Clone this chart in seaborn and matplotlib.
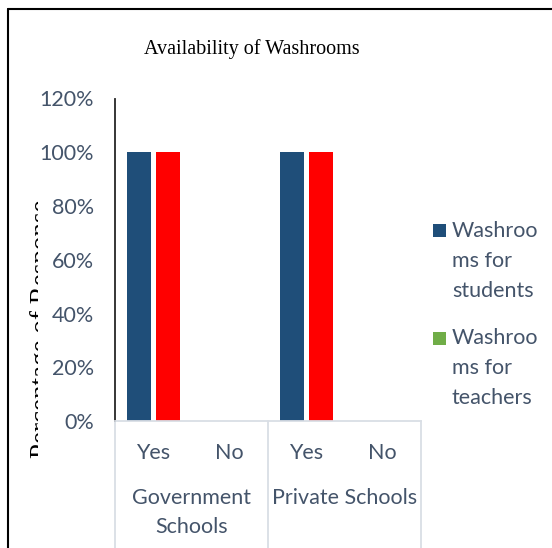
import matplotlib
matplotlib.use("Agg")
import matplotlib.pyplot as plt
import seaborn as sns
import pandas as pd
from matplotlib.lines import Line2D
from matplotlib.patches import Rectangle
from matplotlib.transforms import Bbox, TransformedBbox

# ---- data ----
groups = ["Government Schools", "Government Schools", "Private Schools", "Private Schools"]
answers = ["Yes", "No", "Yes", "No"]
students = [100, 0, 100, 0]
teachers = [100, 0, 100, 0]
series_names = ["Washrooms for students", "Washrooms for teachers"]
legend_labels = ["Washroo\nms for\nstudents", "Washroo\nms for\nteachers"]
group_labels = ["Government\nSchools", "Private Schools"]
yticks = [0, 20, 40, 60, 80, 100, 120]
ytick_labels = ["0%", "20%", "40%", "60%", "80%", "100%", "120%"]

bar_colors = ["#1F4E79", "#FF0000"]
legend_colors = ["#1F4E79", "#70AD47"]
text_color = "#44546A"

slots = [f"{g}|{a}" for g, a in zip(groups, answers)]
df = pd.DataFrame({
    "slot": slots * 2,
    "value": students + teachers,
    "series": [series_names[0]] * 4 + [series_names[1]] * 4,
})

sns.set_theme(style="white")
plt.rcParams["font.family"] = ["Lato", "DejaVu Sans"]

W, H = 552, 548
fig = plt.figure(figsize=(W / 100, H / 100), dpi=100)
ax = fig.add_axes([115 / W, 1 - 421 / H, (421 - 115) / W, (421 - 98.5) / H])

sns.barplot(data=df, x="slot", y="value", hue="series", order=slots,
            hue_order=series_names, palette=bar_colors, saturation=1,
            width=0.758, gap=0.17, errorbar=None, linewidth=0,
            legend=False, ax=ax)

ax.set_xlim(-0.5, len(slots) - 0.5)
ax.set_ylim(0, 120)
ax.set_yticks(yticks)
ax.set_yticklabels(ytick_labels, fontsize=15.5, color=text_color)
ax.set_xticks(range(len(slots)))
ax.set_xticklabels(answers, fontsize=15.5, color=text_color)
ax.tick_params(axis="y", length=0, pad=15)
ax.tick_params(axis="x", length=0, pad=16)
ax.set_xlabel("")
ax.set_ylabel("")

for s in ["top", "right"]:
    ax.spines[s].set_visible(False)
ax.spines["left"].set_color("#262626")
ax.spines["left"].set_linewidth(1.3)
ax.spines["bottom"].set_color("#D9DEE5")
ax.spines["bottom"].set_linewidth(1.3)

# multi-level category axis: group dividers and group names
for xd in [-0.5, 1.5, 3.5]:
    ax.plot([xd, xd], [0, -0.45], transform=ax.get_xaxis_transform(),
            color="#D9DEE5", lw=1.3, clip_on=False)
for i, lab in enumerate(group_labels):
    xc = 2 * i + 0.5
    for j, line in enumerate(lab.split("\n")):
        ypix = 498 + 29 * j
        ax.annotate(line, xy=(xc, 0), xycoords=ax.get_xaxis_transform(),
                    xytext=(0, -(ypix - 421)), textcoords="offset pixels",
                    ha="center", va="center", fontsize=15.5, color=text_color,
                    annotation_clip=False)

# title
fig.text(252 / W, 1 - 49 / H, "Availability of Washrooms",
         family="Liberation Serif", fontsize=14.5, color="black",
         ha="center", va="center")

# y-axis title, partly hidden behind the tick labels
yl = fig.text(30 / W, 1 - 329 / H, "Percentage of Response", rotation=90,
              family="Liberation Serif", fontsize=19.5, color="black",
              ha="left", va="center")
yl.set_clip_box(TransformedBbox(Bbox([[0, 0], [38 / W, 1]]), fig.transFigure))

# legend
for k, (lab, col) in enumerate(zip(legend_labels, legend_colors)):
    y0 = 231 + 107 * k
    fig.add_artist(Rectangle((433 / W, 1 - (y0 + 6.5) / H), 13 / W, 13 / H,
                             transform=fig.transFigure, color=col, lw=0))
    for j, line in enumerate(lab.split("\n")):
        fig.text(452 / W, 1 - (y0 + 30 * j) / H, line, fontsize=15.5,
                 color=text_color, ha="left", va="center")

# outer frame
fig.add_artist(Line2D([7.5 / W, 1], [1 - 8.5 / H, 1 - 8.5 / H],
                      transform=fig.transFigure, color="black", lw=1.5))
fig.add_artist(Line2D([7.5 / W, 7.5 / W], [0, 1 - 8.5 / H],
                      transform=fig.transFigure, color="black", lw=1.5))

fig.savefig("out.png", dpi=100)
